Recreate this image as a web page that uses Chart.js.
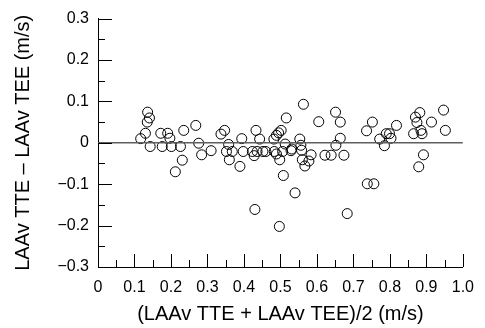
<!DOCTYPE html>
<html>
<head>
<meta charset="utf-8">
<script src="https://cdn.jsdelivr.net/npm/chart.js@4.4.1/dist/chart.umd.min.js"></script>
<style>
  html, body { margin: 0; padding: 0; background: #fff; }
  #wrap { width: 485px; height: 328px; }
</style>
</head>
<body>
<div id="wrap"><canvas id="chart" width="485" height="328"></canvas></div>
<script>
// mean of the two methods (m/s)
const meanVel = [
    0.117, 0.130, 0.135, 0.136, 0.141, 0.143, 0.172, 0.176, 0.191, 0.197,
    0.201, 0.212, 0.226, 0.231, 0.235, 0.268, 0.276, 0.284, 0.310, 0.337,
    0.347, 0.358, 0.352, 0.360, 0.368, 0.389, 0.394, 0.398, 0.423, 0.428,
    0.433, 0.430, 0.443, 0.436, 0.452, 0.460, 0.483, 0.506, 0.529, 0.482,
    0.489, 0.495, 0.502, 0.489, 0.498, 0.497, 0.508, 0.513, 0.516, 0.540,
    0.531, 0.553, 0.556, 0.558, 0.560, 0.563, 0.567, 0.578, 0.584, 0.605,
    0.622, 0.639, 0.651, 0.664, 0.652, 0.664, 0.674, 0.683, 0.736, 0.752,
    0.738, 0.756, 0.772, 0.785, 0.790, 0.799, 0.803, 0.818, 0.865, 0.870,
    0.874, 0.882, 0.885, 0.888, 0.879, 0.892, 0.914, 0.947, 0.952
];
// difference TTE - TEE (m/s)
const diffVel = [
    0.010, 0.023, 0.050, 0.074, 0.060, -0.009, 0.023, -0.009, 0.023, 0.011,
    -0.009, -0.070, -0.009, -0.042, 0.030, 0.042, -0.001, -0.029, -0.019, 0.021,
    0.030, -0.004, -0.021, -0.041, -0.021, -0.057, 0.010, -0.021, -0.021, -0.031,
    0.030, -0.161, 0.009, -0.021, -0.021, -0.021, -0.021, -0.021, -0.019, 0.009,
    0.018, 0.024, 0.030, -0.027, -0.041, -0.202, -0.079, -0.003, 0.060, -0.121,
    -0.015, 0.009, -0.006, -0.018, -0.041, 0.093, -0.056, -0.044, -0.029, 0.051,
    -0.030, -0.030, 0.074, 0.050, -0.006, 0.011, -0.030, -0.171, 0.029, 0.050,
    -0.099, -0.099, 0.009, -0.007, 0.022, 0.022, 0.011, 0.042, 0.022, 0.062,
    0.049, 0.073, 0.030, 0.022, -0.058, -0.029, 0.050, 0.079, 0.030
];

const xTickLabels = ["0", "0.1", "0.2", "0.3", "0.4", "0.5", "0.6", "0.7", "0.8", "0.9", "1.0"];
const yTickLabels = ["\u22120.3", "\u22120.2", "\u22120.1", "0", "0.1", "0.2", "0.3"];
const zeroLine = [{ x: 0, y: 0 }, { x: 1, y: 0 }];

const points = meanVel.map((m, i) => ({ x: m, y: diffVel[i] }));

// ticks pointing into the plot, minor every 0.05
const inwardTicks = {
    id: "inwardTicks",
    afterDatasetsDraw(chart) {
        const { ctx, chartArea, scales } = chart;
        ctx.save();
        ctx.strokeStyle = "#000";
        ctx.lineWidth = 1;
        ctx.beginPath();
        for (let i = 0; i <= 20; i++) {
            const px = Math.round(scales.x.getPixelForValue(i * 0.05)) + 0.5;
            const len = i % 2 === 0 ? 13 : 7;
            ctx.moveTo(px, chartArea.bottom);
            ctx.lineTo(px, chartArea.bottom - len);
        }
        for (let i = 0; i <= 12; i++) {
            const py = Math.round(scales.y.getPixelForValue(-0.3 + i * 0.05)) + 0.5;
            const len = i % 2 === 0 ? 14 : 7;
            ctx.moveTo(chartArea.left, py);
            ctx.lineTo(chartArea.left + len, py);
        }
        ctx.stroke();
        ctx.restore();
    }
};

const font = "'Liberation Sans', Arial, Helvetica, sans-serif";

new Chart(document.getElementById("chart"), {
    type: "scatter",
    data: {
        datasets: [
            {
                type: "line",
                data: zeroLine,
                borderColor: "#5e5e5e",
                borderWidth: 1.5,
                pointRadius: 0,
                fill: false
            },
            {
                data: points,
                backgroundColor: "rgba(0,0,0,0)",
                borderColor: "#000",
                borderWidth: 1,
                pointRadius: 5,
                pointHoverRadius: 5
            }
        ]
    },
    options: {
        responsive: false,
        animation: false,
        devicePixelRatio: 1,
        layout: { padding: { top: 17, right: 13, left: 0, bottom: 0 } },
        plugins: {
            legend: { display: false },
            tooltip: { enabled: false }
        },
        scales: {
            x: {
                type: "linear",
                min: 0,
                max: 1,
                grid: { display: false, drawTicks: false },
                border: { display: true, color: "#000", width: 1 },
                ticks: {
                    stepSize: 0.1,
                    padding: 11,
                    color: "#000",
                    maxRotation: 0,
                    autoSkip: false,
                    font: { family: font, size: 16 },
                    callback: (v, i) => xTickLabels[i]
                },
                title: {
                    display: true,
                    text: "(LAAv TTE + LAAv TEE)/2 (m/s)",
                    color: "#000",
                    font: { family: font, size: 20 },
                    padding: { top: 0, bottom: 2 }
                },
                afterFit: (s) => { s.height = 61; }
            },
            y: {
                type: "linear",
                min: -0.3,
                max: 0.3,
                grid: { display: false, drawTicks: false },
                border: { display: true, color: "#000", width: 1 },
                ticks: {
                    stepSize: 0.1,
                    padding: 9,
                    color: "#000",
                    autoSkip: false,
                    font: { family: font, size: 16 },
                    callback: (v, i) => yTickLabels[i]
                },
                title: {
                    display: true,
                    text: "LAAv TTE \u2013 LAAv TEE (m/s)",
                    color: "#000",
                    font: { family: font, size: 20 },
                    padding: { top: 11, bottom: 0 }
                },
                afterFit: (s) => { s.width = 98; }
            }
        }
    },
    plugins: [inwardTicks]
});
</script>
</body>
</html>
